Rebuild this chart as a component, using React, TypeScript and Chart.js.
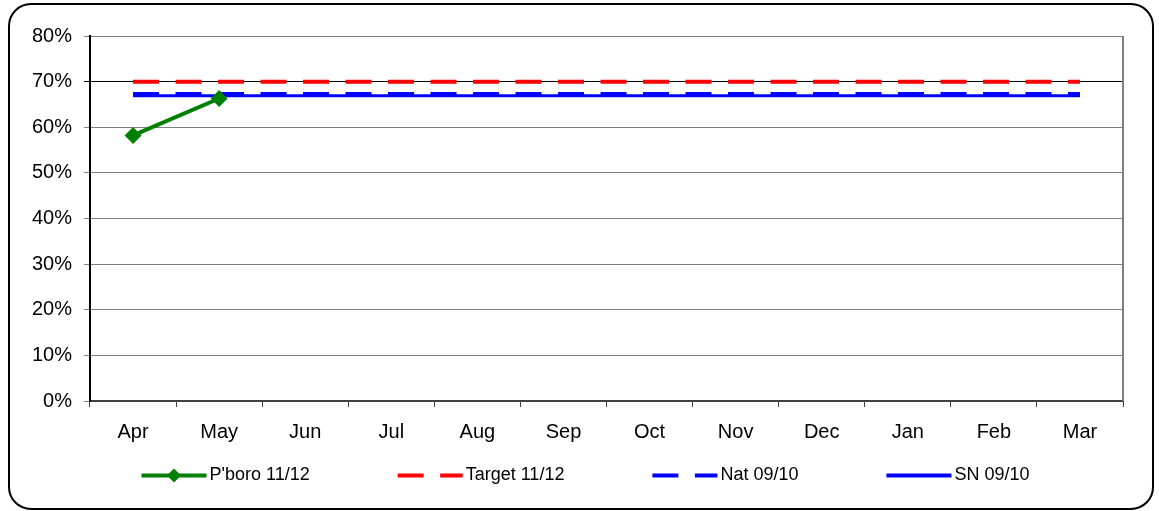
import React, { useEffect, useRef } from "react";
import { Chart, registerables } from "chart.js";

Chart.register(...registerables);

const months = ["Apr", "May", "Jun", "Jul", "Aug", "Sep", "Oct", "Nov", "Dec", "Jan", "Feb", "Mar"];
const pboro: (number | null)[] = [0.582, 0.663, null, null, null, null, null, null, null, null, null, null];
const target = [0.7, 0.7, 0.7, 0.7, 0.7, 0.7, 0.7, 0.7, 0.7, 0.7, 0.7, 0.7];
const nat = [0.673, 0.673, 0.673, 0.673, 0.673, 0.673, 0.673, 0.673, 0.673, 0.673, 0.673, 0.673];
const sn = [0.669, 0.669, 0.669, 0.669, 0.669, 0.669, 0.669, 0.669, 0.669, 0.669, 0.669, 0.669];
const yTicks = [0, 0.1, 0.2, 0.3, 0.4, 0.5, 0.6, 0.7, 0.8];

const FONT = "'Liberation Sans', Arial, sans-serif";
const GREEN = "#008000";
const RED = "#FF0000";
const BLUE = "#0000FF";
const DASH = [26, 16.5];

const frame = {
  id: "frame",
  afterDraw(chart: any) {
    const { ctx, chartArea } = chart;
    ctx.save();
    ctx.strokeStyle = "#808080";
    ctx.lineWidth = 2;
    ctx.beginPath();
    ctx.moveTo(chartArea.right, chartArea.top);
    ctx.lineTo(chartArea.right, chartArea.bottom);
    ctx.stroke();
    ctx.strokeStyle = "#000";
    ctx.lineWidth = 2;
    ctx.beginPath();
    ctx.roundRect(9, 4, 1144, 505, 22);
    ctx.stroke();
    ctx.restore();
  },
};

const legendItems = [
  { label: "P'boro 11/12", color: GREEN, dash: [] as number[], marker: true },
  { label: "Target 11/12", color: RED, dash: DASH, marker: false },
  { label: "Nat 09/10", color: BLUE, dash: DASH, marker: false },
  { label: "SN 09/10", color: BLUE, dash: [] as number[], marker: false },
];

const customLegend = {
  id: "customLegend",
  afterDraw(chart: any) {
    const { ctx, width } = chart;
    ctx.save();
    ctx.font = `18px ${FONT}`;
    const lineLen = 65;
    const textGap = 3;
    const itemGap = 88;
    const widths = legendItems.map((it) => lineLen + textGap + ctx.measureText(it.label).width);
    const total = widths.reduce((a, b) => a + b, 0) + itemGap * (legendItems.length - 1);
    let x = width / 2 + 6 - total / 2;
    const y = 475.5;
    legendItems.forEach((it, i) => {
      ctx.strokeStyle = it.color;
      ctx.lineWidth = 4;
      ctx.setLineDash(it.dash);
      ctx.beginPath();
      ctx.moveTo(x, y);
      ctx.lineTo(x + lineLen, y);
      ctx.stroke();
      ctx.setLineDash([]);
      if (it.marker) {
        const cx = x + lineLen / 2;
        const r = 7;
        ctx.fillStyle = it.color;
        ctx.beginPath();
        ctx.moveTo(cx, y - r);
        ctx.lineTo(cx + r, y);
        ctx.lineTo(cx, y + r);
        ctx.lineTo(cx - r, y);
        ctx.closePath();
        ctx.fill();
      }
      ctx.fillStyle = "#000";
      ctx.textBaseline = "middle";
      ctx.textAlign = "left";
      ctx.fillText(it.label, x + lineLen + textGap, y);
      x += widths[i] + itemGap;
    });
    ctx.restore();
  },
};

export default function App() {
  const ref = useRef<HTMLCanvasElement | null>(null);
  useEffect(() => {
    document.body.style.margin = "0";
    const canvas = ref.current;
    if (!canvas) return;
    const chart = new Chart(canvas, {
      type: "line",
      data: {
        labels: months,
        datasets: [
          {
            label: "P'boro 11/12",
            data: pboro,
            borderColor: GREEN,
            backgroundColor: GREEN,
            borderWidth: 4,
            pointStyle: "rectRot",
            pointRadius: 8.5,
            pointBackgroundColor: GREEN,
            pointBorderColor: GREEN,
            pointBorderWidth: 0,
            spanGaps: false,
          },
          {
            label: "Target 11/12",
            data: target,
            borderColor: RED,
            backgroundColor: RED,
            borderWidth: 4,
            borderDash: DASH,
            pointRadius: 0,
          },
          {
            label: "Nat 09/10",
            data: nat,
            borderColor: BLUE,
            backgroundColor: BLUE,
            borderWidth: 4,
            borderDash: DASH,
            pointRadius: 0,
          },
          {
            label: "SN 09/10",
            data: sn,
            borderColor: BLUE,
            backgroundColor: BLUE,
            borderWidth: 3,
            pointRadius: 0,
          },
        ],
      },
      options: {
        responsive: false,
        animation: false,
        layout: { padding: { left: 0, top: 36, right: 36, bottom: 60 } },
        plugins: { legend: { display: false }, tooltip: { enabled: false } },
        scales: {
          x: {
            offset: true,
            grid: {
              display: true,
              offset: true,
              drawOnChartArea: false,
              drawTicks: true,
              tickLength: 6,
              color: "#404040",
              lineWidth: 1,
            },
            border: { display: true, color: "#404040", width: 2 },
            ticks: {
              color: "#000",
              font: { family: FONT, size: 20 },
              padding: 13,
              maxRotation: 0,
              autoSkip: false,
            },
            afterFit(scale: any) {
              scale.height = 50;
            },
          },
          y: {
            min: 0,
            max: 0.8,
            afterBuildTicks(scale: any) {
              scale.ticks = yTicks.map((v) => ({ value: v }));
            },
            grid: {
              color: (c: any) =>
                c.tick && Math.abs(c.tick.value - 0.7) < 1e-6 ? "#000000" : "#808080",
              lineWidth: 1,
              drawTicks: true,
              tickLength: 6,
            },
            border: { display: true, color: "#000", width: 2 },
            ticks: {
              color: "#000",
              font: { family: FONT, size: 20 },
              padding: 12,
              callback: (v: any) => `${Math.round(Number(v) * 100)}%`,
            },
            afterFit(scale: any) {
              scale.width = 90;
            },
          },
        },
      },
      plugins: [frame, customLegend],
    });
    return () => chart.destroy();
  }, []);
  return <canvas ref={ref} width={1159} height={511} style={{ display: "block" }} />;
}
